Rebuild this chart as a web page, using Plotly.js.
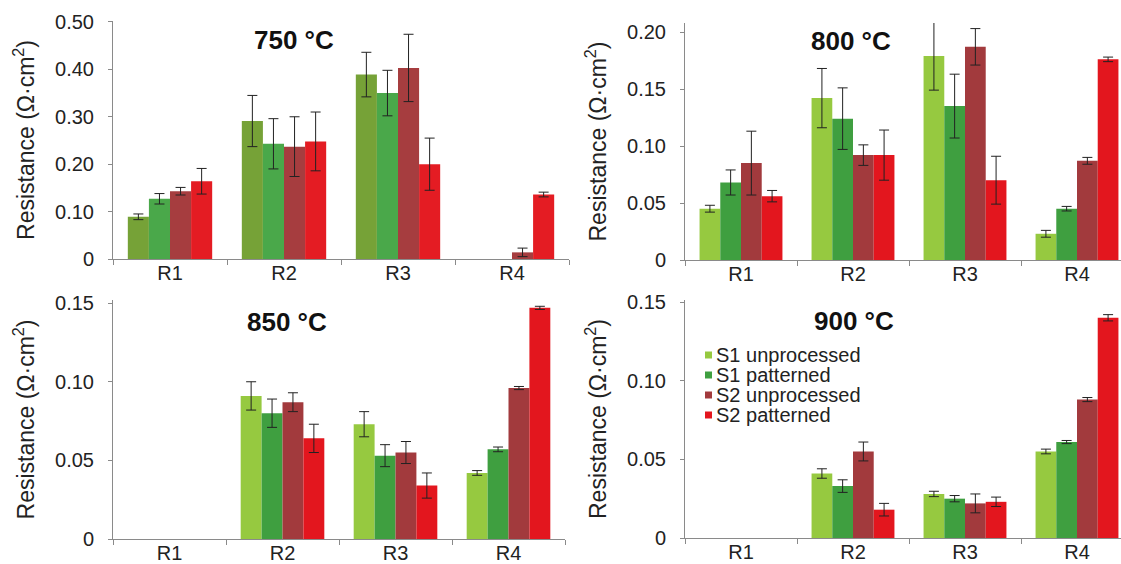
<!DOCTYPE html>
<html>
<head>
<meta charset="utf-8">
<script src="https://cdn.plot.ly/plotly-3.0.1.min.js"></script>
<style>
html,body{margin:0;padding:0;overflow:hidden;background:#fff;}
#chart{width:1140px;height:564px;}
</style>
</head>
<body>
<div id="chart"></div>
<script>
// ---------------- data ----------------
const categories = ["R1", "R2", "R3", "R4"];
const seriesNames = ["S1 unprocessed", "S1 patterned", "S2 unprocessed", "S2 patterned"];
const temperatures = ["750 °C", "800 °C", "850 °C", "900 °C"];

// values per series (rows: S1 unprocessed, S1 patterned, S2 unprocessed, S2 patterned), cols R1..R4
const vals750 = [
  [0.089, 0.291, 0.389, null],
  [0.127, 0.243, 0.350, null],
  [0.143, 0.237, 0.403, 0.014],
  [0.164, 0.248, 0.200, 0.136]
];
const errs750 = [
  [0.006, 0.054, 0.047, 0],
  [0.011, 0.053, 0.048, 0],
  [0.008, 0.063, 0.071, 0.009],
  [0.027, 0.062, 0.055, 0.005]
];
const vals800 = [
  [0.045, 0.142, 0.179, 0.023],
  [0.068, 0.124, 0.135, 0.045],
  [0.085, 0.092, 0.187, 0.087],
  [0.056, 0.092, 0.070, 0.176]
];
const errs800 = [
  [0.003, 0.026, 0.030, 0.003],
  [0.011, 0.027, 0.028, 0.002],
  [0.028, 0.009, 0.016, 0.003],
  [0.005, 0.022, 0.021, 0.002]
];
const vals850 = [
  [null, 0.091, 0.073, 0.042],
  [null, 0.080, 0.053, 0.057],
  [null, 0.087, 0.055, 0.096],
  [null, 0.064, 0.034, 0.147]
];
const errs850 = [
  [0, 0.009, 0.008, 0.0015],
  [0, 0.009, 0.007, 0.0015],
  [0, 0.006, 0.007, 0.001],
  [0, 0.009, 0.008, 0.001]
];
const vals900 = [
  [null, 0.041, 0.028, 0.055],
  [null, 0.033, 0.025, 0.061],
  [null, 0.055, 0.022, 0.088],
  [null, 0.018, 0.023, 0.140]
];
const errs900 = [
  [0, 0.003, 0.0017, 0.0015],
  [0, 0.004, 0.002, 0.001],
  [0, 0.006, 0.006, 0.0013],
  [0, 0.004, 0.003, 0.002]
];
const yTicks750 = [0, 0.1, 0.2, 0.3, 0.4, 0.5];
const yTickText750 = ["0", "0.10", "0.20", "0.30", "0.40", "0.50"];
const yTicks800 = [0, 0.05, 0.1, 0.15, 0.2];
const yTickText800 = ["0", "0.05", "0.10", "0.15", "0.20"];
const yTicksLow = [0, 0.05, 0.1, 0.15];
const yTickTextLow = ["0", "0.05", "0.10", "0.15"];

// ---------------- styling ----------------
const colors750 = ["#76a237", "#4aa84a", "#a63d3f", "#e41c23"];
const colors = ["#96c940", "#3f9f40", "#a23a3d", "#e3161e"];
const W = 1140, H = 564;
const FONT = "Liberation Sans, Arial, Helvetica, sans-serif";
const px = v => v / W;
const py = v => 1 - v / H;

const panels = [
  {vals: vals750, errs: errs750, cols: colors750, xa: "x", ya: "y", xd: [113, 569], yd: [259, 21], range: [0, 0.502], tv: yTicks750, tt: yTickText750, title: [294, 40]},
  {vals: vals800, errs: errs800, cols: colors, xa: "x2", ya: "y2", xd: [685, 1133], yd: [260, 23], range: [0, 0.2079], tv: yTicks800, tt: yTickText800, title: [851, 41]},
  {vals: vals850, errs: errs850, cols: colors, xa: "x3", ya: "y3", xd: [113, 565], yd: [539, 300], range: [0, 0.152], tv: yTicksLow, tt: yTickTextLow, title: [287, 322]},
  {vals: vals900, errs: errs900, cols: colors, xa: "x4", ya: "y4", xd: [685, 1133], yd: [538, 300], range: [0, 0.1513], tv: yTicksLow, tt: yTickTextLow, title: [854, 321]}
];

const traces = [];
const layout = {
  width: W, height: H,
  margin: {l: 0, r: 0, t: 0, b: 0},
  paper_bgcolor: "#ffffff", plot_bgcolor: "#ffffff",
  font: {family: FONT, size: 20, color: "#222"},
  barmode: "group", bargap: 0.26, bargroupgap: 0,
  showlegend: false,
  annotations: [], shapes: []
};

panels.forEach((p, i) => {
  seriesNames.forEach((name, s) => {
    traces.push({
      type: "bar", name: name, x: categories, y: p.vals[s],
      xaxis: p.xa, yaxis: p.ya,
      marker: {color: p.cols[s], line: {width: 0}},
      error_y: {type: "data", array: p.errs[s], visible: true, color: "#222", thickness: 1, width: 5},
      showlegend: false
    });
  });
  const xk = "xaxis" + (i === 0 ? "" : i + 1);
  const yk = "yaxis" + (i === 0 ? "" : i + 1);
  layout[xk] = {
    domain: [px(p.xd[0]), px(p.xd[1])], anchor: p.ya,
    type: "category", categoryorder: "array", categoryarray: categories,
    showline: true, linecolor: "#8a8a8a", linewidth: 1,
    ticks: "outside", tickson: "boundaries", ticklen: 5, tickcolor: "#8a8a8a",
    ticklabelstandoff: -4,
    showgrid: false, zeroline: false, fixedrange: true,
    tickfont: {family: FONT, size: 20, color: "#222"}
  };
  layout[yk] = {
    domain: [py(p.yd[0]), py(p.yd[1])], anchor: p.xa,
    range: p.range, tickvals: p.tv, ticktext: p.tt,
    showline: true, linecolor: "#8a8a8a", linewidth: 1,
    ticks: "outside", ticklen: 4, tickcolor: "#8a8a8a", ticklabelstandoff: 10,
    showgrid: false, zeroline: false, fixedrange: true,
    tickfont: {family: FONT, size: 20, color: "#222"},
    title: {text: "Resistance (Ω·cm<sup>2</sup>)", font: {family: FONT, size: 23, color: "#222"}, standoff: 14}
  };
  layout.annotations.push({
    xref: "paper", yref: "paper", x: px(p.title[0]), y: py(p.title[1]),
    xanchor: "center", yanchor: "middle", showarrow: false,
    text: "<b>" + temperatures[i] + "</b>",
    font: {family: FONT, size: 26, color: "#111"}
  });
});

// legend (drawn in the 900 °C panel)
const legendRows = [355, 375, 395, 415];
seriesNames.forEach((name, s) => {
  layout.shapes.push({
    type: "rect", xref: "paper", yref: "paper",
    x0: px(705), x1: px(712), y0: py(legendRows[s] + 3.5), y1: py(legendRows[s] - 3.5),
    fillcolor: colors[s], line: {width: 0}
  });
  layout.annotations.push({
    xref: "paper", yref: "paper", x: px(714), y: py(legendRows[s]),
    xanchor: "left", yanchor: "middle", showarrow: false,
    text: name, font: {family: FONT, size: 20, color: "#222"}
  });
});

Plotly.newPlot("chart", traces, layout, {displayModeBar: false, staticPlot: true});
</script>
</body>
</html>
